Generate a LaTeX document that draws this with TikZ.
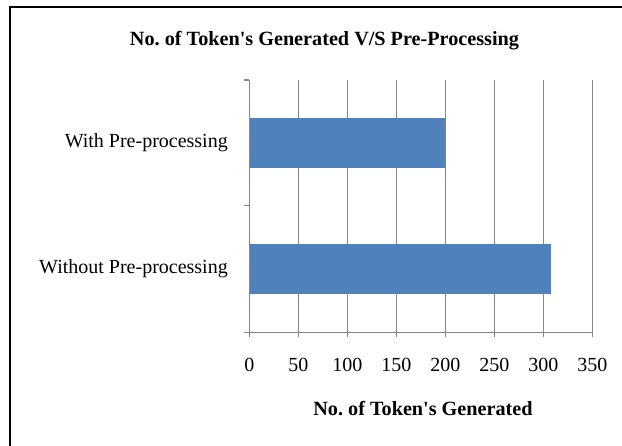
\documentclass[tikz,border=0pt]{standalone}
\usepackage{fontspec}
\setmainfont{Liberation Serif}
\frenchspacing
\definecolor{barblue}{HTML}{4F81BD}
\definecolor{gridgray}{HTML}{868686}
\begin{document}
\begin{tikzpicture}[x=1pt,y=1pt,
  every node/.style={inner sep=0pt,font=\fontsize{20}{24}\selectfont},
  grid/.style={draw=gridgray,line width=1.1pt},
  axis/.style={draw=gridgray,line width=1.3pt},
  bar/.style={fill=barblue,draw=none},
  cat/.style={anchor=east},
  ticklab/.style={anchor=center},
  heading/.style={font=\fontsize{20.2}{24}\selectfont\bfseries}]
\useasboundingbox (0,0) rectangle (622,446);
% outer frame (runs off the right and bottom edges)
\draw[line width=1.6pt] (10,-5) -- (10,439) -- (630,439);
% chart title
\node[heading] (title) at (324.5,405) {No. of Token\textquotesingle s Generated V/S Pre-Processing};
% vertical grid lines every 50 units (0.98pt per unit)
\foreach \v in {50,100,...,350}{
  \draw[grid] ({249.3+0.98*\v},366) -- ({249.3+0.98*\v},113.7);
}
% bars
\fill[bar] (249.3,277.7) rectangle ({249.3+0.98*200},328.3);
\fill[bar] (249.3,151.7) rectangle ({249.3+0.98*308},202);
% axes with ticks
\draw[axis] (249.3,366) -- (249.3,113.7);
\draw[axis] (249.3,113.7) -- (592.3,113.7);
\foreach \yy in {366,240.3,113.7}{
  \draw[axis] (243.5,\yy) -- (249.3,\yy);
}
\foreach \v in {0,50,...,350}{
  \draw[axis] ({249.3+0.98*\v},113.7) -- ({249.3+0.98*\v},108.5);
  \node[ticklab] (t\v) at ({249.3+0.98*\v},81) {\v};
}
% category labels
\node[cat] (with) at (228,303) {With Pre-processing};
\node[cat] (without) at (228,177) {Without Pre-processing};
% axis title
\node[heading] (xtitle) at (423,37) {No. of Token\textquotesingle s Generated};
\end{tikzpicture}
\end{document}
